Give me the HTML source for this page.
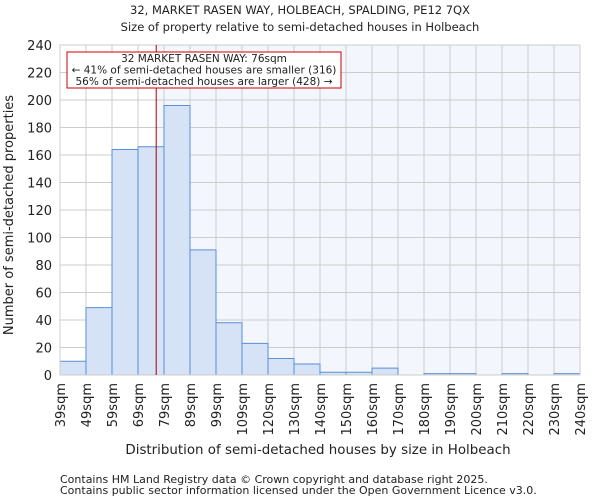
<!DOCTYPE html>
<html><head><meta charset="utf-8"><style>
body{margin:0;background:#fff;font-family:"DejaVu Sans","Liberation Sans",sans-serif;}
svg text{font-family:"DejaVu Sans","Liberation Sans",sans-serif;fill:#222;}
</style></head><body>
<svg id="chart" width="600" height="500">
<text x="300" y="14" text-anchor="middle" font-size="11.5">32, MARKET RASEN WAY, HOLBEACH, SPALDING, PE12 7QX</text>
<text x="300" y="31" text-anchor="middle" font-size="11.5">Size of property relative to semi-detached houses in Holbeach</text>
<g id="plot"></g>
<text x="318" y="454" text-anchor="middle" font-size="13.4">Distribution of semi-detached houses by size in Holbeach</text>
<text transform="translate(13,215) rotate(-90)" text-anchor="middle" font-size="13">Number of semi-detached properties</text>
<text x="60" y="483" font-size="11" fill="#444">Contains HM Land Registry data © Crown copyright and database right 2025.</text>
<text x="60" y="494" font-size="11" fill="#444">Contains public sector information licensed under the Open Government Licence v3.0.</text>
</svg>
<script>
const binLabels=["39sqm","49sqm","59sqm","69sqm","79sqm","89sqm","99sqm","109sqm","120sqm","130sqm","140sqm","150sqm","160sqm","170sqm","180sqm","190sqm","200sqm","210sqm","220sqm","230sqm","240sqm"];
const counts=[10,49,164,166,196,91,38,23,12,8,2,2,5,0,1,1,0,1,0,1];
const yTicks=[0,20,40,60,80,100,120,140,160,180,200,220,240];
const markerBin=3.7;
const NS="http://www.w3.org/2000/svg";
const L=60,R=580,T=45,B=375,yMax=240;
const bw=(R-L)/counts.length;
const xs=i=>L+i*bw;
const ys=v=>B-(v/yMax)*(B-T);
const g=document.getElementById('plot');
function mk(t,a){const e=document.createElementNS(NS,t);for(const k in a)e.setAttribute(k,a[k]);g.appendChild(e);return e;}
const mx=xs(markerBin);
let e=mk('rect',{x:L,y:T,width:mx-L,height:B-T,fill:'#ffffff'});


e=mk('rect',{x:mx,y:T,width:R-mx,height:B-T,fill:'#f3f6fd'});


yTicks.forEach(v=>{
 e=mk('line',{x1:L,x2:R,y1:ys(v),y2:ys(v),stroke:'#cccccc','stroke-width':1});
 
 
 e=mk('text',{x:L-8,y:ys(v)+5,'text-anchor':'end','font-size':13});
 e.textContent=v;
 
 
});
binLabels.forEach((s,i)=>{
 e=mk('line',{x1:xs(i),x2:xs(i),y1:T,y2:B,stroke:'#cccccc','stroke-width':1});
 
 
 e=mk('text',{transform:`translate(${xs(i)+5},${B+8}) rotate(-90)`,'text-anchor':'end','font-size':13});
 e.textContent=s;
 
 
});
counts.forEach((v,i)=>{
 if(v<=0)return;
 e=mk('rect',{x:xs(i),y:ys(v),width:bw,height:B-ys(v),fill:'#d6e2f5',stroke:'#5b8fd6','stroke-width':1});
 
 
});
e=mk('rect',{x:L,y:T,width:R-L,height:B-T,fill:'none',stroke:'#cccccc'});


e=mk('line',{x1:mx,x2:mx,y1:T,y2:B,stroke:'#aa0000','stroke-width':1});


e=mk('rect',{x:67,y:52,width:274,height:36,fill:'#ffffff',stroke:'#cc0000','stroke-width':1});


const ann=["32 MARKET RASEN WAY: 76sqm","← 41% of semi-detached houses are smaller (316)","56% of semi-detached houses are larger (428) →"];
ann.forEach((s,i)=>{
 e=mk('text',{x:204,y:62+i*11.5,'text-anchor':'middle','font-size':10.5});
 e.textContent=s;
 
 
});
</script>
</body></html>
